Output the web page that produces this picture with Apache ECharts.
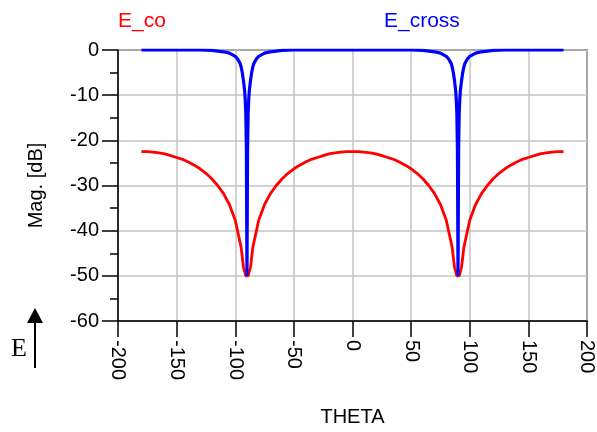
<!DOCTYPE html>
<html>
<head>
<meta charset="utf-8">
<script src="https://cdn.jsdelivr.net/npm/echarts@6/dist/echarts.min.js"></script>
<style>
  html, body { margin: 0; padding: 0; background: #fff; }
  #chart { width: 597px; height: 432px; }
</style>
</head>
<body>
<div id="chart"></div>
<script>
// E_co: co-polar magnitude (dB) vs theta
const thetaCo = [-180, -175, -170, -165, -160, -155, -150, -145, -140, -135, -130, -125, -120, -115, -110, -105, -100, -95, -93, -91, -90, -89, -87, -85, -80, -75, -70, -65, -60, -55, -50, -45, -40, -35, -30, -25, -20, -15, -10, -5,
  0, 5, 10, 15, 20, 25, 30, 35, 40, 45, 50, 55, 60, 65, 70, 75, 80, 85, 87, 89, 90, 91, 93, 95, 100, 105, 110, 115, 120, 125, 130, 135, 140, 145, 150, 155, 160, 165, 170, 175, 180];
const eCo = [-22.5, -22.5, -22.6, -22.8, -23.0, -23.4, -23.8, -24.2, -24.8, -25.5, -26.3, -27.3, -28.5, -30.0, -31.8, -34.2, -37.7, -43.7, -48.1, -50, -50, -50, -48.1, -43.7, -37.7, -34.2, -31.8, -30.0, -28.5, -27.3, -26.3, -25.5, -24.8, -24.2, -23.8, -23.4, -23.0, -22.8, -22.6, -22.5,
  -22.5, -22.5, -22.6, -22.8, -23.0, -23.4, -23.8, -24.2, -24.8, -25.5, -26.3, -27.3, -28.5, -30.0, -31.8, -34.2, -37.7, -43.7, -48.1, -50, -50, -50, -48.1, -43.7, -37.7, -34.2, -31.8, -30.0, -28.5, -27.3, -26.3, -25.5, -24.8, -24.2, -23.8, -23.4, -23.0, -22.8, -22.6, -22.5, -22.5];

// E_cross: cross-polar magnitude (dB) vs theta
const thetaCross = [-180, -130, -120, -110, -105, -100, -98, -96, -95, -94, -93, -92, -91.5, -91, -90.5, -90, -89.5, -89, -88.5, -88, -87, -86, -85, -84, -82, -80, -75, -70, -60, -50,
  0, 50, 60, 70, 75, 80, 82, 84, 85, 86, 87, 88, 88.5, 89, 89.5, 90, 90.5, 91, 91.5, 92, 93, 94, 95, 96, 98, 100, 105, 110, 120, 130, 180];
const eCross = [0, 0, -0.1, -0.4, -0.7, -1.4, -2, -2.9, -3.7, -5, -6.8, -9, -11, -14, -22, -50, -22, -14, -11, -9, -6.8, -5, -3.7, -2.9, -2, -1.4, -0.7, -0.4, -0.1, 0,
  0, 0, -0.1, -0.4, -0.7, -1.4, -2, -2.9, -3.7, -5, -6.8, -9, -11, -14, -22, -50, -22, -14, -11, -9, -6.8, -5, -3.7, -2.9, -2, -1.4, -0.7, -0.4, -0.1, 0, 0];

const xTicks = [-200, -150, -100, -50, 0, 50, 100, 150, 200];
const yTicks = [-60, -50, -40, -30, -20, -10, 0];

const FONT = '"Liberation Sans", Arial, sans-serif';
const zip = (xs, ys) => xs.map((x, i) => [x, ys[i]]);

const chart = echarts.init(document.getElementById('chart'), null, { renderer: 'canvas' });
chart.setOption({
  animation: false,
  backgroundColor: '#fff',
  grid: {
    left: 118, right: 10, top: 50, bottom: 106,
    show: true, borderColor: '#222', borderWidth: 1.5
  },
  graphic: [
    { type: 'text', left: 118, top: 11, style: { text: 'E_co', fill: '#ff0000', font: '21px ' + FONT } },
    { type: 'text', left: 384, top: 11, style: { text: 'E_cross', fill: '#0000ff', font: '21px ' + FONT } },
    { type: 'text', left: 11, top: 336, style: { text: 'E', fill: '#000', font: '26px "Liberation Serif", "Times New Roman", serif' } },
    { type: 'line', shape: { x1: 35, y1: 368, x2: 35, y2: 320 }, style: { stroke: '#000', lineWidth: 2 } },
    { type: 'polygon', shape: { points: [[35, 308], [27, 323], [43, 323]] }, style: { fill: '#000' } }
  ],
  xAxis: {
    type: 'value',
    min: xTicks[0], max: xTicks[xTicks.length - 1], interval: 50,
    name: 'THETA', nameLocation: 'middle', nameGap: 86,
    nameTextStyle: { color: '#000', fontSize: 20, fontFamily: FONT },
    axisLine: { onZero: false, lineStyle: { color: '#000', width: 1.5 } },
    axisTick: { show: true, inside: false, length: 16, lineStyle: { color: '#000', width: 1.5 } },
    axisLabel: { rotate: -90, margin: 19, color: '#000', fontSize: 20, fontFamily: FONT },
    splitLine: { show: true, lineStyle: { color: '#c4c4c4', width: 1.5 } }
  },
  yAxis: {
    type: 'value',
    min: yTicks[0], max: yTicks[yTicks.length - 1], interval: 10,
    name: 'Mag. [dB]', nameLocation: 'middle', nameGap: 72,
    nameTextStyle: { color: '#000', fontSize: 20, fontFamily: FONT },
    axisLine: { onZero: false, lineStyle: { color: '#000', width: 1.5 } },
    axisTick: { show: true, inside: false, length: 16, lineStyle: { color: '#000', width: 1.5 } },
    minorTick: { show: true, splitNumber: 2, length: 8, lineStyle: { color: '#000', width: 1.5 } },
    axisLabel: { margin: 19, color: '#000', fontSize: 20, fontFamily: FONT },
    splitLine: { show: true, lineStyle: { color: '#c4c4c4', width: 1.5 } }
  },
  series: [
    {
      name: 'E_co', type: 'line', data: zip(thetaCo, eCo),
      showSymbol: false, symbol: 'none',
      lineStyle: { color: '#ff0000', width: 2.8 }, z: 3
    },
    {
      name: 'E_cross', type: 'line', data: zip(thetaCross, eCross),
      showSymbol: false, symbol: 'none',
      lineStyle: { color: '#0000ff', width: 3.2 }, z: 4
    }
  ]
});
</script>
</body>
</html>
